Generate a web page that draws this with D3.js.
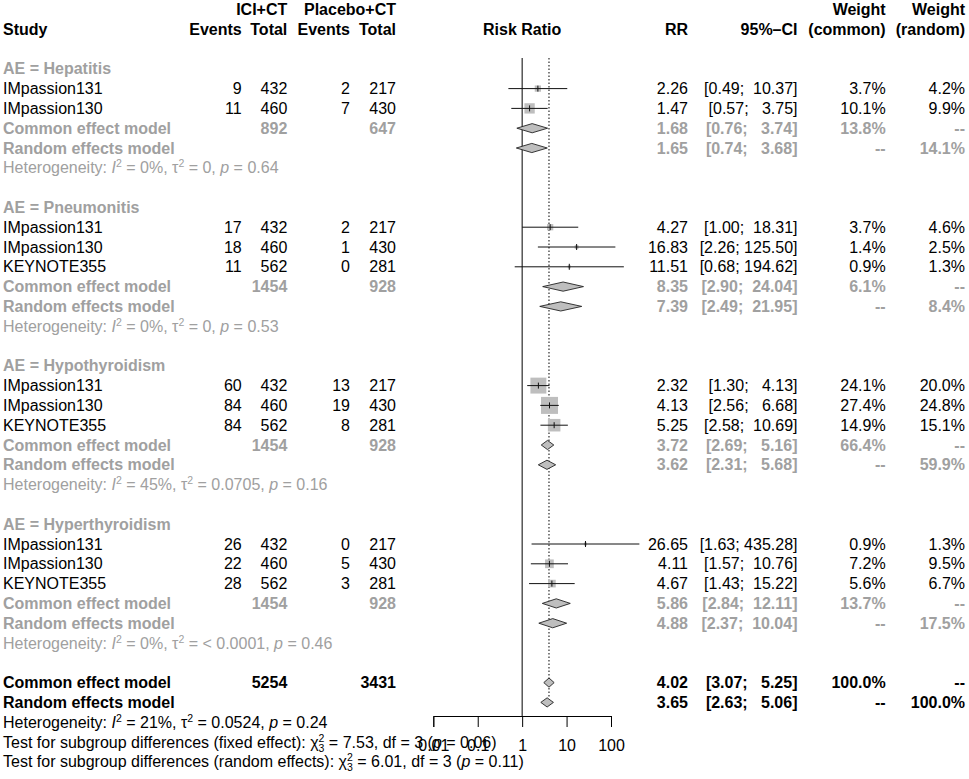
<!DOCTYPE html>
<html lang="en">
<head>
<meta charset="UTF-8">
<title>Forest plot</title>
<script src="https://d3js.org/d3.v7.min.js"></script>
<style>
  body { margin: 0; background: #fff; }
  svg { display: block; font-family: "Liberation Sans", Arial, Helvetica, sans-serif; font-size: 16px; }
  text { white-space: pre; }
</style>
</head>
<body>
<script>
// ---- data ----
const groups = ["Hepatitis", "Pneumonitis", "Hypothyroidism", "Hyperthyroidism"];

const studies = [
  {ae: "Hepatitis", study: "IMpassion131", eE: 9, nE: 432, eC: 2, nC: 217, rr: 2.26, lo: 0.49, hi: 10.37, wF: 3.7, wR: 4.2},
  {ae: "Hepatitis", study: "IMpassion130", eE: 11, nE: 460, eC: 7, nC: 430, rr: 1.47, lo: 0.57, hi: 3.75, wF: 10.1, wR: 9.9},
  {ae: "Pneumonitis", study: "IMpassion131", eE: 17, nE: 432, eC: 2, nC: 217, rr: 4.27, lo: 1.00, hi: 18.31, wF: 3.7, wR: 4.6},
  {ae: "Pneumonitis", study: "IMpassion130", eE: 18, nE: 460, eC: 1, nC: 430, rr: 16.83, lo: 2.26, hi: 125.50, wF: 1.4, wR: 2.5},
  {ae: "Pneumonitis", study: "KEYNOTE355", eE: 11, nE: 562, eC: 0, nC: 281, rr: 11.51, lo: 0.68, hi: 194.62, wF: 0.9, wR: 1.3},
  {ae: "Hypothyroidism", study: "IMpassion131", eE: 60, nE: 432, eC: 13, nC: 217, rr: 2.32, lo: 1.30, hi: 4.13, wF: 24.1, wR: 20.0},
  {ae: "Hypothyroidism", study: "IMpassion130", eE: 84, nE: 460, eC: 19, nC: 430, rr: 4.13, lo: 2.56, hi: 6.68, wF: 27.4, wR: 24.8},
  {ae: "Hypothyroidism", study: "KEYNOTE355", eE: 84, nE: 562, eC: 8, nC: 281, rr: 5.25, lo: 2.58, hi: 10.69, wF: 14.9, wR: 15.1},
  {ae: "Hyperthyroidism", study: "IMpassion131", eE: 26, nE: 432, eC: 0, nC: 217, rr: 26.65, lo: 1.63, hi: 435.28, wF: 0.9, wR: 1.3},
  {ae: "Hyperthyroidism", study: "IMpassion130", eE: 22, nE: 460, eC: 5, nC: 430, rr: 4.11, lo: 1.57, hi: 10.76, wF: 7.2, wR: 9.5},
  {ae: "Hyperthyroidism", study: "KEYNOTE355", eE: 28, nE: 562, eC: 3, nC: 281, rr: 4.67, lo: 1.43, hi: 15.22, wF: 5.6, wR: 6.7}
];

// subgroup pooled results: [estimate, lower, upper]
const subTotals = [[892, 647], [1454, 928], [1454, 928], [1454, 928]];
const subCommon = [[1.68, 0.76, 3.74], [8.35, 2.90, 24.04], [3.72, 2.69, 5.16], [5.86, 2.84, 12.11]];
const subCommonW = [13.8, 6.1, 66.4, 13.7];
const subRandom = [[1.65, 0.74, 3.68], [7.39, 2.49, 21.95], [3.62, 2.31, 5.68], [4.88, 2.37, 10.04]];
const subRandomW = [14.1, 8.4, 59.9, 17.5];
const subHet = [["0%", "0", "0.64"], ["0%", "0", "0.53"], ["45%", "0.0705", "0.16"], ["0%", "< 0.0001", "0.46"]];

const totalN = [5254, 3431];
const overallCommon = [4.02, 3.07, 5.25];
const overallRandom = [3.65, 2.63, 5.06];
const overallHet = ["21%", "0.0524", "0.24"];
const subgroupTests = [["fixed effect", "7.53", "3", "0.06"], ["random effects", "6.01", "3", "0.11"]];

const tickValues = [0.01, 0.1, 1, 10, 100];
const tickLabels = ["0.01", "0.1", "1", "10", "100"];

// ---- layout ----
const W = 969, H = 779;
const GREY = "#a0a0a0", FILL = "#bebebe";
const svg = d3.select("body").append("svg").attr("width", W).attr("height", H);

const x = d3.scaleLog().domain([0.01, 100]).range([433.3, 611]);
const yBase = d3.scaleLinear().domain([0, 38]).range([15, 767.4]);
const mid = i => yBase(i) - 5.6;
const sq = d3.scaleSqrt().domain([0, 27.4]).range([0, 17]);

const col = {study: 3, eE: 241.7, nE: 287.3, eC: 350, nC: 396, rr: 688, ci: 797.5, wF: 885.7, wR: 965};

const fmtCI = v => "[" + v[1].toFixed(2) + "; " + v[2].toFixed(2).padStart(6) + "]";
const fmtW = w => w == null ? "--" : w.toFixed(1) + "%";

function txt(xp, row, s, opt = {}) {
  return svg.append("text")
    .attr("x", xp).attr("y", yBase(row))
    .attr("text-anchor", opt.anchor || "end")
    .attr("font-weight", opt.bold ? "bold" : null)
    .attr("fill", opt.color || "#000")
    .text(s);
}

// headers
txt(col.nE, 0, "ICI+CT", {bold: true});
txt(col.nC, 0, "Placebo+CT", {bold: true});
txt(col.wF, 0, "Weight", {bold: true});
txt(col.wR, 0, "Weight", {bold: true});
txt(col.study, 1, "Study", {bold: true, anchor: "start"});
txt(col.eE, 1, "Events", {bold: true});
txt(col.nE, 1, "Total", {bold: true});
txt(col.eC, 1, "Events", {bold: true});
txt(col.nC, 1, "Total", {bold: true});
txt(x(1), 1, "Risk Ratio", {bold: true, anchor: "middle"});
txt(col.rr, 1, "RR", {bold: true});
txt(col.ci, 1, "95%\u2013CI", {bold: true});
txt(col.wF, 1, "(common)", {bold: true});
txt(col.wR, 1, "(random)", {bold: true});

// heterogeneity line with italic I, superscripts
function hetLine(row, h, color) {
  const t = txt(col.study, row, null, {anchor: "start", color: color});
  t.append("tspan").text("Heterogeneity: ");
  t.append("tspan").attr("font-style", "italic").text("I");
  t.append("tspan").attr("font-size", 10.5).attr("dy", -6).text("2");
  t.append("tspan").attr("dy", 6).text(" = " + h[0] + ", \u03c4");
  t.append("tspan").attr("font-size", 10.5).attr("dy", -6).text("2");
  t.append("tspan").attr("dy", 6).text(" = " + h[1] + ", ");
  t.append("tspan").attr("font-style", "italic").text("p");
  t.append("tspan").text(" = " + h[2]);
}

function diamond(row, v) {
  const c = mid(row), hh = 4.6;
  svg.append("path")
    .attr("d", `M${x(v[1])},${c}L${x(v[0])},${c - hh}L${x(v[2])},${c}L${x(v[0])},${c + hh}Z`)
    .attr("fill", FILL).attr("stroke", "#222").attr("stroke-width", 0.9);
}

// reference lines (drawn first, under the marks)
const refG = svg.append("g");
refG.append("line").attr("x1", x(1)).attr("x2", x(1)).attr("y1", 58).attr("y2", 716)
  .attr("stroke", "#000").attr("stroke-width", 1);
refG.append("line").attr("x1", x(overallCommon[0])).attr("x2", x(overallCommon[0]))
  .attr("y1", 58).attr("y2", 698)
  .attr("stroke", "#000").attr("stroke-width", 1).attr("stroke-dasharray", "1.5,2");

// groups
let row = 3;
groups.forEach((g, gi) => {
  txt(col.study, row, "AE = " + g, {bold: true, anchor: "start", color: GREY});
  row++;
  studies.filter(d => d.ae === g).forEach(d => {
    txt(col.study, row, d.study, {anchor: "start"});
    txt(col.eE, row, d.eE);
    txt(col.nE, row, d.nE);
    txt(col.eC, row, d.eC);
    txt(col.nC, row, d.nC);
    txt(col.rr, row, d.rr.toFixed(2));
    txt(col.ci, row, fmtCI([d.rr, d.lo, d.hi]));
    txt(col.wF, row, fmtW(d.wF));
    txt(col.wR, row, fmtW(d.wR));
    const c = mid(row), s = sq(d.wF);
    svg.append("rect").attr("x", x(d.rr) - s / 2).attr("y", c - s / 2)
      .attr("width", s).attr("height", s).attr("fill", FILL);
    svg.append("line").attr("x1", x(d.lo)).attr("x2", x(d.hi)).attr("y1", c).attr("y2", c)
      .attr("stroke", "#111").attr("stroke-width", 1);
    svg.append("line").attr("x1", x(d.rr)).attr("x2", x(d.rr)).attr("y1", c - 3).attr("y2", c + 3)
      .attr("stroke", "#111").attr("stroke-width", 1);
    row++;
  });
  const o = {bold: true, color: GREY};
  txt(col.study, row, "Common effect model", {...o, anchor: "start"});
  txt(col.nE, row, subTotals[gi][0], o);
  txt(col.nC, row, subTotals[gi][1], o);
  txt(col.rr, row, subCommon[gi][0].toFixed(2), o);
  txt(col.ci, row, fmtCI(subCommon[gi]), o);
  txt(col.wF, row, fmtW(subCommonW[gi]), o);
  txt(col.wR, row, "--", o);
  diamond(row, subCommon[gi]);
  row++;
  txt(col.study, row, "Random effects model", {...o, anchor: "start"});
  txt(col.rr, row, subRandom[gi][0].toFixed(2), o);
  txt(col.ci, row, fmtCI(subRandom[gi]), o);
  txt(col.wF, row, "--", o);
  txt(col.wR, row, fmtW(subRandomW[gi]), o);
  diamond(row, subRandom[gi]);
  row++;
  hetLine(row, subHet[gi], GREY);
  row += 2;
});

// overall
const ob = {bold: true};
txt(col.study, row, "Common effect model", {...ob, anchor: "start"});
txt(col.nE, row, totalN[0], ob);
txt(col.nC, row, totalN[1], ob);
txt(col.rr, row, overallCommon[0].toFixed(2), ob);
txt(col.ci, row, fmtCI(overallCommon), ob);
txt(col.wF, row, "100.0%", ob);
txt(col.wR, row, "--", ob);
diamond(row, overallCommon);
row++;
txt(col.study, row, "Random effects model", {...ob, anchor: "start"});
txt(col.rr, row, overallRandom[0].toFixed(2), ob);
txt(col.ci, row, fmtCI(overallRandom), ob);
txt(col.wF, row, "--", ob);
txt(col.wR, row, "100.0%", ob);
diamond(row, overallRandom);
row++;
hetLine(row, overallHet, "#000");
row++;

// axis
const axis = d3.axisBottom(x).tickValues(tickValues)
  .tickFormat((d, i) => tickLabels[i]).tickSizeOuter(0).tickSize(11).tickPadding(13);
const ax = svg.append("g").attr("transform", "translate(0,716)").call(axis);
ax.select(".domain").attr("stroke", "#000");
ax.selectAll(".tick line").attr("stroke", "#000");
ax.selectAll(".tick text").attr("font-size", 16).attr("font-family", null).attr("fill", "#000");

subgroupTests.forEach(tst => {
  const t = txt(col.study, row, null, {anchor: "start"});
  t.append("tspan").text("Test for subgroup differences (" + tst[0] + "): \u03c7");
  t.append("tspan").attr("font-size", 10.5).attr("dy", -6).text("2");
  t.append("tspan").attr("font-size", 10.5).attr("dx", -5.8).attr("dy", 10).text("3");
  t.append("tspan").attr("dy", -4).text(" = " + tst[1] + ", df = " + tst[2] + " (");
  t.append("tspan").attr("font-style", "italic").text("p");
  t.append("tspan").text(" = " + tst[3] + ")");
  row++;
});
</script>
</body>
</html>
